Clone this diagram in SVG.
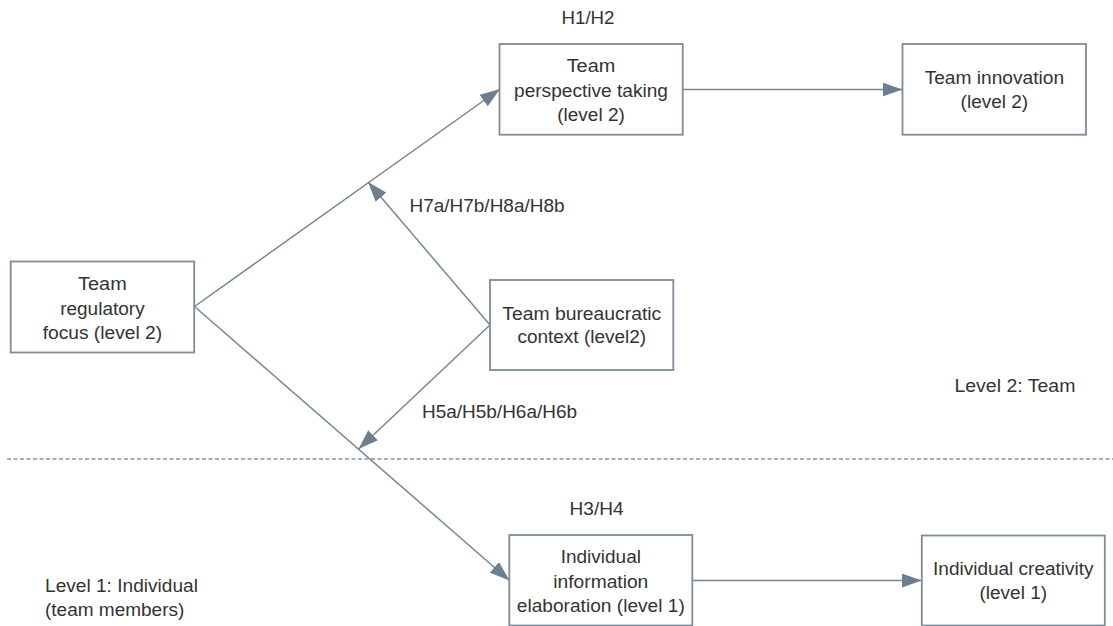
<svg xmlns="http://www.w3.org/2000/svg" width="1113" height="626" viewBox="0 0 1113 626">
<style>
.box{fill:#ffffff;stroke:#7d8c99;stroke-width:1.8}
.conn{stroke:#74879a;stroke-width:1.5;fill:none}
.dash{stroke:#8494a2;stroke-width:1.5;stroke-dasharray:4 2.5;fill:none}
text{font-family:"Liberation Sans",Arial,sans-serif;font-size:17.5px;fill:#333333}
.c{text-anchor:middle}
</style>
<defs>
<marker id="ah" markerUnits="userSpaceOnUse" markerWidth="20" markerHeight="14" refX="20" refY="7" orient="auto">
<path d="M0,0 L20,7 L0,14 z" fill="#6b7f8f"/>
</marker>
</defs>
<rect width="1113" height="626" fill="#ffffff"/>
<line class="dash" x1="7" y1="459" x2="1113" y2="459"/>
<g id="connectors">
<line class="conn" x1="194.5" y1="306.5" x2="500" y2="89" marker-end="url(#ah)"/>
<line class="conn" x1="194.5" y1="306.5" x2="509.5" y2="580.5" marker-end="url(#ah)"/>
<line class="conn" x1="490" y1="325" x2="368" y2="182" marker-end="url(#ah)"/>
<line class="conn" x1="490" y1="325" x2="358.5" y2="449" marker-end="url(#ah)"/>
<line class="conn" x1="682.7" y1="89.5" x2="902.5" y2="89.5" marker-end="url(#ah)"/>
<line class="conn" x1="692.3" y1="580.5" x2="921.8" y2="580.5" marker-end="url(#ah)"/>
</g>
<g id="labels">
<text class="c" x="588" y="24" textLength="53" lengthAdjust="spacingAndGlyphs">H1/H2</text>
<text x="409.5" y="212.3" textLength="155" lengthAdjust="spacingAndGlyphs">H7a/H7b/H8a/H8b</text>
<text x="422" y="418" textLength="155" lengthAdjust="spacingAndGlyphs">H5a/H5b/H6a/H6b</text>
<text class="c" x="596.6" y="515" textLength="54" lengthAdjust="spacingAndGlyphs">H3/H4</text>
<text x="954.4" y="391.7" textLength="121" lengthAdjust="spacingAndGlyphs">Level 2: Team</text>
<text x="45" y="591.7" textLength="153" lengthAdjust="spacingAndGlyphs">Level 1: Individual</text>
<text x="45" y="615.7" textLength="139.3" lengthAdjust="spacingAndGlyphs">(team members)</text>
</g>
<g id="regulatory">
<rect class="box" x="10.7" y="261.5" width="183.5" height="91"/>
<text class="c" x="102.4" y="290" textLength="48.6" lengthAdjust="spacingAndGlyphs">Team</text>
<text class="c" x="102.4" y="314.7" textLength="84.5" lengthAdjust="spacingAndGlyphs">regulatory</text>
<text class="c" x="102.4" y="339" textLength="119.5" lengthAdjust="spacingAndGlyphs">focus (level 2)</text>
</g>
<g id="perspective">
<rect class="box" x="499.5" y="44" width="183.2" height="90.7"/>
<text class="c" x="591" y="72.3" textLength="48.6" lengthAdjust="spacingAndGlyphs">Team</text>
<text class="c" x="591" y="96.5" textLength="154" lengthAdjust="spacingAndGlyphs">perspective taking</text>
<text class="c" x="591" y="120.7" textLength="67.6" lengthAdjust="spacingAndGlyphs">(level 2)</text>
</g>
<g id="innovation">
<rect class="box" x="902.5" y="44" width="183.5" height="90.7"/>
<text class="c" x="994.4" y="84" textLength="139.5" lengthAdjust="spacingAndGlyphs">Team innovation</text>
<text class="c" x="994.4" y="108.3" textLength="67.6" lengthAdjust="spacingAndGlyphs">(level 2)</text>
</g>
<g id="bureaucratic">
<rect class="box" x="490" y="280" width="183.3" height="90"/>
<text class="c" x="581.8" y="320" textLength="159" lengthAdjust="spacingAndGlyphs">Team bureaucratic</text>
<text class="c" x="581.8" y="343.3" textLength="128.8" lengthAdjust="spacingAndGlyphs">context (level2)</text>
</g>
<g id="elaboration">
<rect class="box" x="509.3" y="535" width="183" height="90.5"/>
<text class="c" x="600.8" y="563.3" textLength="80.3" lengthAdjust="spacingAndGlyphs">Individual</text>
<text class="c" x="600.8" y="587.5" textLength="95" lengthAdjust="spacingAndGlyphs">information</text>
<text class="c" x="600.8" y="611.7" textLength="168" lengthAdjust="spacingAndGlyphs">elaboration (level 1)</text>
</g>
<g id="creativity">
<rect class="box" x="921.8" y="535.5" width="183" height="90"/>
<text class="c" x="1013.3" y="575" textLength="160.5" lengthAdjust="spacingAndGlyphs">Individual creativity</text>
<text class="c" x="1013.3" y="599.3" textLength="67.6" lengthAdjust="spacingAndGlyphs">(level 1)</text>
</g>
</svg>
